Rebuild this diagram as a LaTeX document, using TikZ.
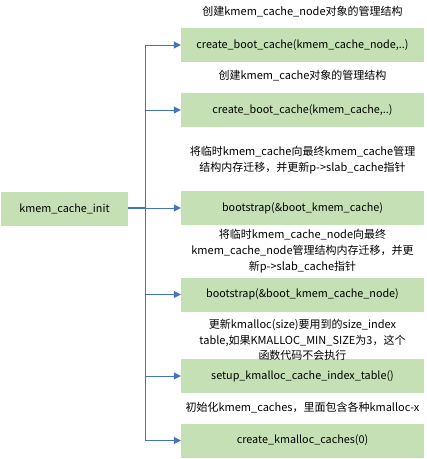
\documentclass[tikz,border=0pt]{standalone}
\usepackage{fontspec}
\setmainfont{Noto Sans CJK SC}
\usetikzlibrary{arrows.meta}
\definecolor{boxgreen}{HTML}{C5E0B4}
\definecolor{lineblue}{HTML}{4472C4}
\tikzset{
  fbox/.style={fill=boxgreen, draw=none, minimum height=34pt, inner sep=0pt, font=\fontsize{10.8}{12}\selectfont},
  rbox/.style={fbox, minimum width=243pt},
  note/.style={align=center, font=\fontsize{11}{15.8}\selectfont, inner sep=0pt},
  conn/.style={draw=lineblue, line width=1pt},
  arr/.style={conn, -{Triangle[length=7pt,width=7pt]}},
}
\begin{document}
\begin{tikzpicture}[x=1pt,y=-1pt]
\useasboundingbox (0,0) rectangle (427,459);
\node[fbox, minimum width=127pt] (init) at (64.5,208.5) {kmem\_cache\_init};
\node[rbox] (b1) at (302.5,45) {create\_boot\_cache(kmem\_cache\_node,..)};
\node[rbox] (b2) at (302.5,110) {create\_boot\_cache(kmem\_cache,..)};
\node[rbox] (b3) at (302.5,208) {bootstrap(\&boot\_kmem\_cache)};
\node[rbox] (b4) at (302.5,294.5) {bootstrap(\&boot\_kmem\_cache\_node)};
\node[rbox] (b5) at (302.5,376) {setup\_kmalloc\_cache\_index\_table()};
\node[rbox] (b6) at (302.5,440.5) {create\_kmalloc\_caches(0)};
\node[note] (n1) at (302.5,12) {创建kmem\_cache\_node对象的管理结构};
\node[note] (n2) at (302.5,76) {创建kmem\_cache对象的管理结构};
\node[note] (n3) at (302.5,160) {将临时kmem\_cache向最终kmem\_cache管理\\结构内存迁移，并更新p->slab\_cache指针};
\node[note] (n4) at (302.5,251) {将临时kmem\_cache\_node向最终\\kmem\_cache\_node管理结构内存迁移，并更\\新p->slab\_cache指针};
\node[note] (n5) at (302.5,340) {更新kmalloc(size)要用到的size\_index\\table,如果KMALLOC\_MIN\_SIZE为3，这个\\函数代码不会执行};
\node[note] (n6) at (302.5,408) {初始化kmem\_caches，里面包含各种kmalloc-x};
\coordinate (j) at (145.5,208);
\coordinate (top) at (145.5,45);
\coordinate (bot) at (145.5,440.5);
\draw[conn, line width=1.6pt] (init.east |- j) -- (j);
\draw[conn] (top) -- (bot);
\foreach \b in {b1,b2,b3,b4,b5,b6}
  \draw[arr] (\b.west -| j) -- (\b.west);
\end{tikzpicture}
\end{document}
